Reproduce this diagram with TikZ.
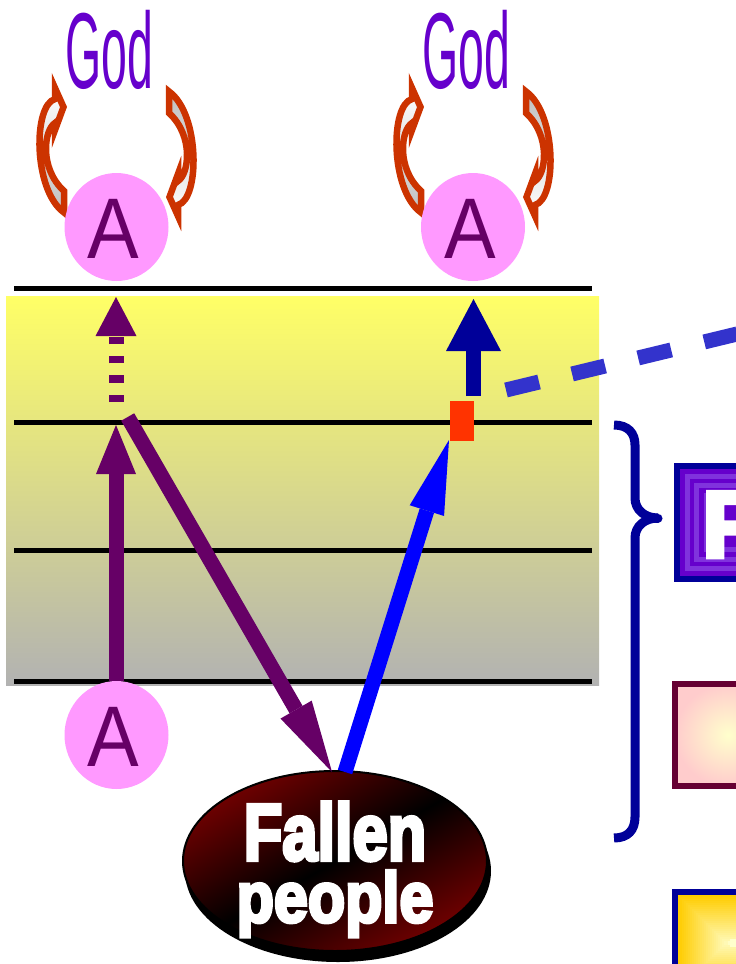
\documentclass[tikz,border=0pt]{standalone}
\usepackage{fontspec}
\setmainfont{Liberation Sans}
\newfontfamily\fatfont[FakeBold=5]{Liberation Sans Bold}
\usetikzlibrary{arrows.meta,shapes.geometric}
\definecolor{godviolet}{HTML}{6600CC}
\definecolor{plum}{HTML}{660066}
\definecolor{navy}{HTML}{000099}
\definecolor{burnt}{HTML}{CC3300}
\definecolor{bandtop}{HTML}{FFFF66}
\definecolor{bandbot}{HTML}{B2B2B2}
\definecolor{pinkdisc}{HTML}{FF99FF}
\definecolor{dashblue}{HTML}{3333CC}
\definecolor{oxred}{HTML}{700000}
\definecolor{gold}{HTML}{FFCC00}
\definecolor{pale}{HTML}{FFFFCC}
\definecolor{maroon}{HTML}{660033}
\definecolor{rosy}{HTML}{FFCCCC}
\definecolor{stripeA}{HTML}{6600CC}
\definecolor{stripeB}{HTML}{8033DD}
\tikzset{
  level/.style={line width=5pt,black},
  disc/.style={ellipse,fill=pinkdisc,minimum width=104pt,minimum height=108pt,inner sep=0pt},
  godword/.style={text=godviolet,inner sep=0pt,anchor=base},
  curl/.style={draw=burnt,line width=6.5pt,miter limit=12,line join=miter},
  plumshaft/.style={plum,line width=15pt},
}
\newcommand{\godtext}{\scalebox{0.43}[1]{\fontsize{108}{108}\selectfont God}}
\newcommand{\Aletter}{\textcolor{plum}{\scalebox{0.9}[1]{\fontsize{86}{86}\selectfont A}}}
\newcommand{\curlpath}{(55,88) -- (63.5,107) -- (55,130) -- (55,123)
   .. controls (44,130) and (39,168) .. (64,191) -- (64,212.5)
   .. controls (33,190) and (33,105) .. (55,99) -- cycle}
\begin{document}
\begin{tikzpicture}[x=1pt,y=-1pt]
\useasboundingbox (0,0) rectangle (736,964);
\clip (0,0) rectangle (736,964);
% band
\shade[top color=bandtop,bottom color=bandbot] (6,296) rectangle (599,685);
% levels
\coordinate (l1a) at (14,288); \coordinate (l1b) at (592,288);
\coordinate (l2a) at (14,422); \coordinate (l2b) at (592,422);
\coordinate (l3a) at (14,550); \coordinate (l3b) at (592,550);
\coordinate (l4a) at (14,681); \coordinate (l4b) at (592,681);
\draw[level] (l1a) -- (l1b);
\draw[level] (l2a) -- (l2b);
\draw[level] (l3a) -- (l3b);
\draw[level] (l4a) -- (l4b);
% God labels
\node[godword] (god1) at (109,88) {\godtext};
\node[godword] (god2) at (466,88) {\godtext};
% curl arrows
\draw[curl,top color=white,bottom color=gray!50] \curlpath;
\begin{scope}[rotate around={180:(116.5,152)}]
\draw[curl,top color=gray!50,bottom color=white] \curlpath;
\end{scope}
\begin{scope}[xshift=357pt]
\draw[curl,top color=white,bottom color=gray!50] \curlpath;
\begin{scope}[rotate around={180:(116.5,152)}]
\draw[curl,top color=gray!50,bottom color=white] \curlpath;
\end{scope}
\end{scope}
% discs
\node[disc] (a1) at (116.5,227) {};
\node[inner sep=0pt,anchor=base] (a1t) at (113.5,258) {\Aletter};
\node[disc] (a2) at (473,227) {};
\node[inner sep=0pt,anchor=base] (a2t) at (470.5,258) {\Aletter};
\node[disc] (a3) at (116.5,735) {};
\node[inner sep=0pt,anchor=base] (a3t) at (113.5,766) {\Aletter};
% fallen people
\fill[black] (338,871) ellipse [x radius=153,y radius=91];
\shade[draw=black,line width=2pt,left color=oxred,right color=oxred,middle color=black,shading angle=30]
  (335,861) ellipse [x radius=152,y radius=90];
\node[inner sep=0pt,anchor=base,text=white] (fallen) at (335,860)
  {\scalebox{0.79}[1]{\fontsize{80}{80}\selectfont\fatfont Fallen}};
\node[inner sep=0pt,anchor=base,text=white] (people) at (335,922)
  {\scalebox{0.86}[1]{\fontsize{71}{71}\selectfont\fatfont people}};
% connector anchors
\coordinate (upA) at (116,402); \coordinate (upAtip) at (116,297);
\coordinate (stemA) at (116,681); \coordinate (stemAtip) at (116,425);
\coordinate (diagA) at (127.7,417); \coordinate (diagAtip) at (332,772);
\coordinate (blueA) at (345,772); \coordinate (blueAtip) at (449,440);
\coordinate (navyA) at (473.5,396); \coordinate (navyAtip) at (473.5,299);
\coordinate (dashA) at (506,390); \coordinate (dashB) at (770,326);
\draw[plum,line width=15pt,dash pattern=on 7.3pt off 12pt,-{Triangle[length=39pt,width=41pt,line width=0pt]}] (upA) -- (upAtip);
\draw[plumshaft,-{Triangle[length=49pt,width=40pt,line width=0pt]}] (stemA) -- (stemAtip);
\draw[plumshaft,-{Triangle[length=72pt,width=36pt,line width=0pt]}] (diagA) -- (diagAtip);
\draw[blue,line width=15pt,-{Triangle[length=74pt,width=36pt,line width=0pt]}] (blueA) -- (blueAtip);
\draw[navy,line width=15pt,-{Triangle[length=52pt,width=55pt,line width=0pt]}] (navyA) -- (navyAtip);
\draw[dashblue,line width=15pt,dash pattern=on 34pt off 34pt] (dashA) -- (dashB);
\fill[fill={rgb,255:red,255;green,51;blue,0}] (450,401) rectangle (474,441);
% brace
\coordinate (br1) at (614,425); \coordinate (br2) at (635,445); \coordinate (br3) at (635,498);
\coordinate (brtip) at (658,518); \coordinate (br4) at (635,538); \coordinate (br5) at (635,817);
\coordinate (br6) at (614,838);
\draw[navy,line width=9pt,line cap=butt] (br1) .. controls (628,425) and (635,433) .. (br2) -- (br3)
  .. controls (635,510) and (645,518) .. (brtip);
\draw[navy,line width=9pt,line cap=round] (brtip) -- (656,518);
\draw[navy,line width=9pt] (brtip) .. controls (645,518) and (635,526) .. (br4) -- (br5)
  .. controls (635,830) and (628,838) .. (br6);
% bevel box
\fill[navy] (674,463) rectangle (790,582);
\foreach \i/\c in {0/stripeA,1/stripeB,2/stripeA,3/stripeB,4/stripeA,5/stripeB}{
  \fill[\c] ({680+\i*4.83},{469+\i*4.83}) rectangle (790,{576-\i*4.83});
}
\fill[stripeA] (709,498) rectangle (790,547);
\node[inner sep=0pt,anchor=base west,text=white] (ftext) at (702,557)
  {\fontsize{94}{94}\selectfont\fatfont F};
% pink box
\draw[maroon,line width=6pt,shading=radial,inner color=pale,outer color=rosy] (675,684) rectangle (781,786);
\draw[maroon,line width=6pt] (675,684) rectangle (790,786);
% gold box
\fill[navy] (672,889) rectangle (790,1000);
\foreach \i in {0,2,...,52}{
  \pgfmathsetmacro{\p}{\i*100/52}
  \fill[pale!\p!gold] ({678+\i},{895+\i}) rectangle ({778+\i*0},{991-\i});
}
\end{tikzpicture}
\end{document}
